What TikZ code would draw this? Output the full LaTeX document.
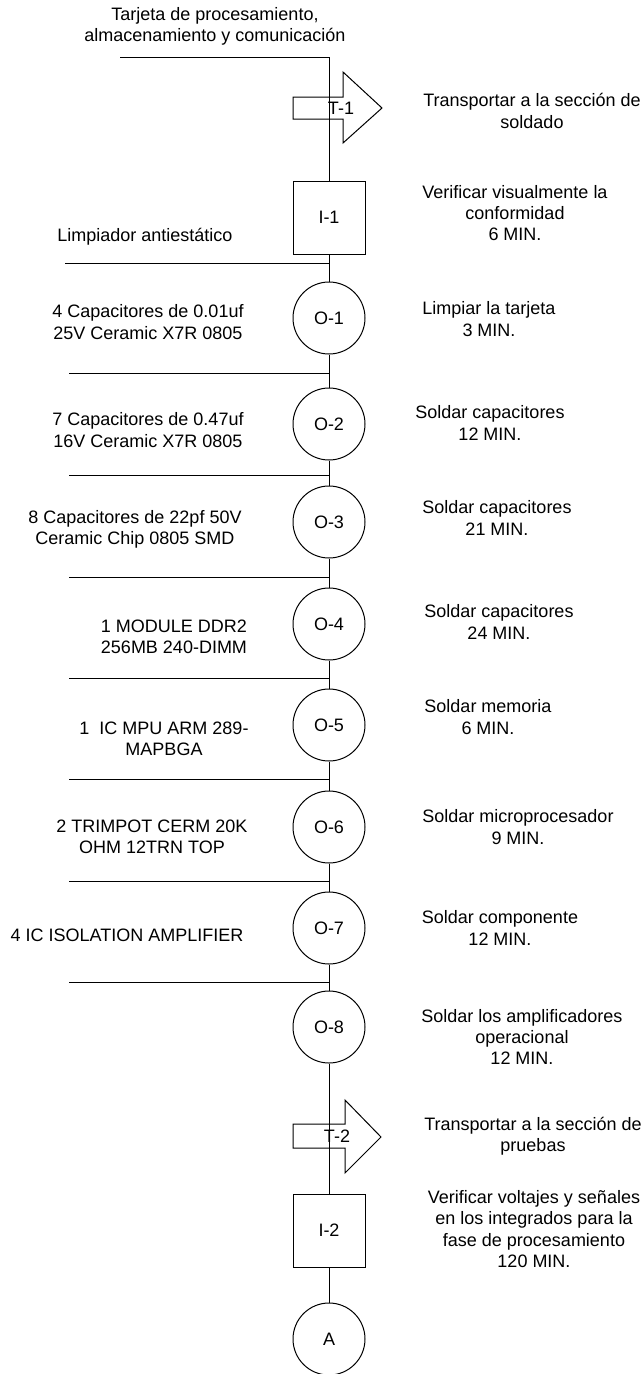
\documentclass[tikz,border=0pt]{standalone}
\usepackage{fontspec}
\setmainfont{Liberation Sans}
\begin{document}
\begin{tikzpicture}[x=1pt,y=-1pt,
  every node/.style={font=\fontsize{18}{21.3}\selectfont, inner sep=0pt},
  lbl/.style={align=center},
  opbox/.style={draw, circle, minimum size=72pt, line width=1pt},
  inspbox/.style={draw, rectangle, minimum width=72pt, minimum height=73pt, line width=1pt},
  flow/.style={line width=1pt},
  trarrow/.style={draw, line width=1pt}]
\useasboundingbox (0,0) rectangle (644,1374);

% main nodes
\coordinate (start) at (120,57);
\node[inspbox] (i1) at (329,217.5) {I-1};
\node[opbox] (o1) at (329,318) {O-1};
\node[opbox] (o2) at (329,424) {O-2};
\node[opbox] (o3) at (329,522) {O-3};
\node[opbox] (o4) at (329,624) {O-4};
\node[opbox] (o5) at (329,725) {O-5};
\node[opbox] (o6) at (329,827) {O-6};
\node[opbox] (o7) at (329,928) {O-7};
\node[opbox] (o8) at (329,1027) {O-8};
\node[inspbox] (i2) at (329,1230.5) {I-2};
\node[opbox] (a) at (329,1339) {A};

% main flow line
\draw[flow] (start) -| (i1.north);
\draw[flow] (i1.south) -- (o1.north);
\draw[flow] (o1.south) -- (o2.north);
\draw[flow] (o2.south) -- (o3.north);
\draw[flow] (o3.south) -- (o4.north);
\draw[flow] (o4.south) -- (o5.north);
\draw[flow] (o5.south) -- (o6.north);
\draw[flow] (o6.south) -- (o7.north);
\draw[flow] (o7.south) -- (o8.north);
\draw[flow] (o8.south) -- (i2.north);
\draw[flow] (i2.south) -- (a.north);

% transport arrows (open outlines)
\draw[trarrow] (293,97) -- (343,97) -- (343,72) -- (382,108) -- (343,143) -- (343,119) -- (293,119) -- cycle;
\node (t1) at (341,108) {T-1};
\draw[trarrow] (293,1124) -- (345,1124) -- (345,1100) -- (381,1137) -- (345,1173) -- (345,1148) -- (293,1148) -- cycle;
\node (t2) at (337,1136) {T-2};

% input lines
\coordinate (in1) at (65,263);
\coordinate (in2) at (69,373);
\coordinate (in3) at (69,475);
\coordinate (in4) at (69,577);
\coordinate (in5) at (69,678);
\coordinate (in6) at (69,779);
\coordinate (in7) at (69,881);
\coordinate (in8) at (69,982);
\foreach \c in {in1,in2,in3,in4,in5,in6,in7,in8}
  \draw[flow] (\c) -- (\c -| o1);

% left labels
\node[lbl] (ltop) at (215,26) {Tarjeta de procesamiento,\\almacenamiento y comunicación};
\node[lbl] (l1) at (145,237) {Limpiador antiestático};
\node[lbl] (l2) at (148,322) {4 Capacitores de 0.01uf\\25V Ceramic X7R 0805};
\node[lbl] (l3) at (148,430) {7 Capacitores de 0.47uf\\16V Ceramic X7R 0805};
\node[lbl] (l4) at (135,529) {8 Capacitores de 22pf 50V\\Ceramic Chip 0805 SMD};
\node[lbl] (l5) at (174,637) {1 MODULE DDR2\\256MB 240-DIMM};
\node[lbl] (l6) at (164,739) {1\ \ IC MPU ARM 289-\\MAPBGA};
\node[lbl] (l7) at (152,837) {2 TRIMPOT CERM 20K\\OHM 12TRN TOP};
\node[lbl] (l8) at (127,935) {4 IC ISOLATION AMPLIFIER};

% right labels
\node[lbl] (r1) at (532,111) {Transportar a la sección de\\soldado};
\node[lbl] (r2) at (515,213) {Verificar visualmente la\\conformidad\\6 MIN.};
\node[lbl] (r3) at (489,319) {Limpiar la tarjeta\\3 MIN.};
\node[lbl] (r4) at (490,423) {Soldar capacitores\\12 MIN.};
\node[lbl] (r5) at (497,518) {Soldar capacitores\\21 MIN.};
\node[lbl] (r6) at (499,622) {Soldar capacitores\\24 MIN.};
\node[lbl] (r7) at (488,717) {Soldar memoria\\6 MIN.};
\node[lbl] (r8) at (518,827) {Soldar microprocesador\\9 MIN.};
\node[lbl] (r9) at (500,928) {Soldar componente\\12 MIN.};
\node[lbl] (r10) at (522,1037) {Soldar los amplificadores\\operacional\\12 MIN.};
\node[lbl] (r11) at (533,1136) {Transportar a la sección de\\pruebas};
\node[lbl] (r12) at (534,1229) {Verificar voltajes y señales\\en los integrados para la\\fase de procesamiento\\120 MIN.};
\end{tikzpicture}
\end{document}
